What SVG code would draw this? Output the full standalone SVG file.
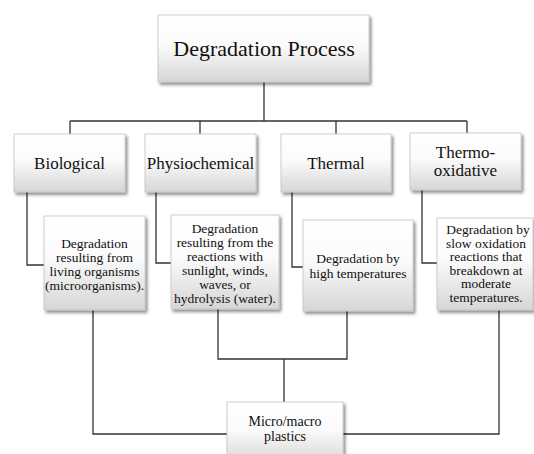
<svg xmlns="http://www.w3.org/2000/svg" width="534" height="454" viewBox="0 0 534 454">
<defs>
<linearGradient id="g" x1="0" y1="0" x2="0" y2="1">
<stop offset="0" stop-color="#ffffff"/>
<stop offset="0.45" stop-color="#fbfbfb"/>
<stop offset="1" stop-color="#d6d6d6"/>
</linearGradient>
<filter id="sh" x="-10%" y="-10%" width="125%" height="125%">
<feDropShadow dx="2" dy="2.5" stdDeviation="1.5" flood-color="#000" flood-opacity="0.45"/>
</filter>
</defs>
<style>
.box{fill:url(#g);stroke:#c4c4c4;stroke-width:0.8;filter:url(#sh)}
.t{fill:#111;text-anchor:middle}
.h1{font-size:22px}
.h2{font-size:17px}
.d{font-size:13.5px}
.conn path{fill:none;stroke:#333;stroke-width:1.3}
</style>
<rect width="534" height="454" fill="#fff"/>
<g id="connectors" class="conn">
<path d="M264,82 V121 M70,121 H467 M70,121 V134 M200,121 V134 M336,121 V134 M467,121 V133"/>
<path d="M27,192 V265 H44"/>
<path d="M156,192 V263 H171"/>
<path d="M292,192 V267 H303"/>
<path d="M422,190 V263 H437"/>
<path d="M93,310 V434 H227"/>
<path d="M343,434 H499 V310"/>
<path d="M218,309 V359 H347 V311 M284,359 V402"/>
</g>
<g font-family="Liberation Serif, DejaVu Serif, serif">
<g id="degradation-process">
<rect class="box" x="158" y="15" width="211" height="67"/>
<text class="t h1" x="264" y="56">Degradation Process</text>
</g>
<g id="biological">
<rect class="box" x="14" y="134" width="111" height="58"/>
<text class="t h2" x="69.5" y="169">Biological</text>
</g>
<g id="physiochemical">
<rect class="box" x="145" y="134" width="111" height="58"/>
<text class="t h2" x="200.5" y="169">Physiochemical</text>
</g>
<g id="thermal">
<rect class="box" x="281" y="134" width="110" height="58"/>
<text class="t h2" x="336" y="169">Thermal</text>
</g>
<g id="thermo-oxidative">
<rect class="box" x="410" y="133" width="111" height="57"/>
<text class="t h2" x="465.5" y="158">Thermo-</text>
<text class="t h2" x="465.5" y="176">oxidative</text>
</g>
<g id="biological-detail">
<rect class="box" x="44" y="216" width="101" height="94"/>
<text class="t d" x="94.5" y="247.5">Degradation</text>
<text class="t d" x="94.5" y="261.5">resulting from</text>
<text class="t d" x="94.5" y="275.5">living organisms</text>
<text class="t d" x="94.5" y="289.5">(microorganisms).</text>
</g>
<g id="physiochemical-detail">
<rect class="box" x="171" y="215" width="108" height="94"/>
<text class="t d" x="225" y="233">Degradation</text>
<text class="t d" x="225" y="247">resulting from the</text>
<text class="t d" x="225" y="261">reactions with</text>
<text class="t d" x="225" y="275">sunlight, winds,</text>
<text class="t d" x="225" y="289">waves, or</text>
<text class="t d" x="225" y="302.5">hydrolysis (water).</text>
</g>
<g id="thermal-detail">
<rect class="box" x="303" y="220" width="110" height="91"/>
<text class="t d" x="358" y="263">Degradation by</text>
<text class="t d" x="358" y="277.5">high temperatures</text>
</g>
<g id="thermo-oxidative-detail">
<rect class="box" x="437" y="218" width="96" height="92"/>
<text class="t d" x="488" y="234">Degradation by</text>
<text class="t d" x="486" y="247.5">slow oxidation</text>
<text class="t d" x="486" y="261">reactions that</text>
<text class="t d" x="486" y="274.5">breakdown at</text>
<text class="t d" x="486" y="288">moderate</text>
<text class="t d" x="486" y="302">temperatures.</text>
</g>
<g id="micro-macro-plastics">
<rect class="box" x="227" y="402" width="116" height="62"/>
<text class="t d" x="285" y="426" style="font-size:14px">Micro/macro</text>
<text class="t d" x="285" y="440.5" style="font-size:14px">plastics</text>
</g>
</g>
</svg>
